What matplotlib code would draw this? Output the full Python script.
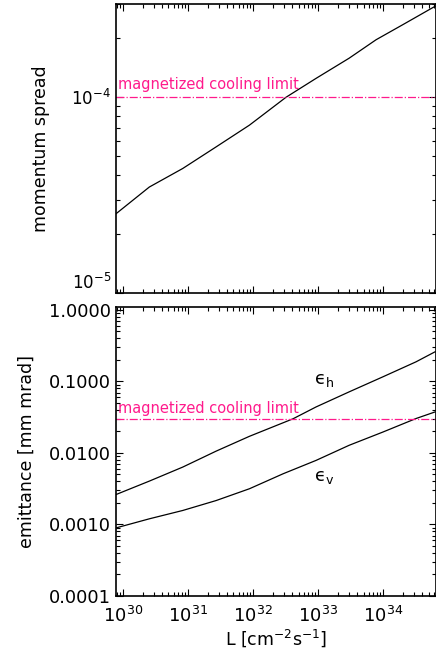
import numpy as np
import matplotlib
matplotlib.use('Agg')
import matplotlib.pyplot as plt
from matplotlib.ticker import LogLocator, FixedLocator, FixedFormatter, NullFormatter

plt.rcParams['font.family'] = 'DejaVu Sans'
plt.rcParams['mathtext.default'] = 'regular'

# luminosity [cm^-2 s^-1] and momentum spread (top panel)
L_top = [7.8e29, 2.54e30, 8.3e30, 2.7e31, 8.8e31, 3.2e32, 9.3e32, 3.0e33, 7.8e33, 2.0e34, 6.3e34]
dp = [2.54e-5, 3.48e-5, 4.33e-5, 5.58e-5, 7.21e-5, 1.0e-4, 1.25e-4, 1.585e-4, 1.97e-4, 2.35e-4, 2.92e-4]

# emittances [mm mrad] (bottom panel)
L_h = [7.8e29, 2.54e30, 8.3e30, 2.7e31, 8.8e31, 4.1e32, 9.3e32, 3.0e33, 9.9e33, 3.2e34, 6.3e34]
eps_h = [0.00262, 0.00404, 0.00635, 0.0106, 0.0171, 0.030, 0.044, 0.0715, 0.116, 0.188, 0.26]
L_v = [7.8e29, 2.54e30, 8.3e30, 2.7e31, 8.8e31, 2.9e32, 9.3e32, 3.0e33, 9.9e33, 3.2e34, 6.3e34]
eps_v = [0.000895, 0.0012, 0.00157, 0.00216, 0.00316, 0.00512, 0.00787, 0.0128, 0.0196, 0.0303, 0.0375]

# magnetized cooling limits
dp_limit = 1e-4
eps_limit = 0.03

limit_color = '#ff1a8c'
xlim = (7.8e29, 6.4e34)

fig = plt.figure(figsize=(4.36, 6.53), dpi=100)
ax1 = fig.add_axes([0.266, 0.5513, 0.733, 0.4426])
ax2 = fig.add_axes([0.266, 0.0873, 0.733, 0.4426])

for ax in (ax1, ax2):
    ax.set_xscale('log')
    ax.set_yscale('log')
    ax.set_xlim(*xlim)
    ax.tick_params(which='both', direction='in', top=True, right=True, width=0.8)
    ax.tick_params(which='major', length=5, labelsize=12)
    ax.tick_params(which='minor', length=3)
    ax.xaxis.set_minor_locator(LogLocator(base=10, subs=np.arange(2, 10), numticks=20))
    ax.yaxis.set_minor_locator(LogLocator(base=10, subs=np.arange(2, 10), numticks=20))
    ax.yaxis.set_minor_formatter(NullFormatter())
    ax.xaxis.set_minor_formatter(NullFormatter())
    for s in ax.spines.values():
        s.set_linewidth(1.2)

xt = [1e30, 1e31, 1e32, 1e33, 1e34]

# top panel
ax1.plot(L_top, dp, color='black', lw=0.9)
ax1.axhline(dp_limit, color=limit_color, lw=0.9, ls='-.')
ax1.text(8.3e29, dp_limit * 1.06, 'magnetized cooling limit', color=limit_color,
         fontsize=10.5, ha='left', va='bottom')
ax1.set_ylim(1e-5, 3e-4)
ax1.yaxis.set_major_locator(FixedLocator([1e-5, 1e-4]))
ax1.yaxis.set_major_formatter(FixedFormatter(['$10^{-5}$', '$10^{-4}$']))
ax1.xaxis.set_major_locator(FixedLocator(xt))
ax1.set_xticklabels([])
ax1.set_ylabel('momentum spread', fontsize=12.5)
ax1.yaxis.set_label_coords(-0.205, 0.5)

# bottom panel
ax2.plot(L_h, eps_h, color='black', lw=0.9)
ax2.plot(L_v, eps_v, color='black', lw=0.9)
ax2.axhline(eps_limit, color=limit_color, lw=0.9, ls='-.')
ax2.text(8.3e29, eps_limit * 1.1, 'magnetized cooling limit', color=limit_color,
         fontsize=10.5, ha='left', va='bottom')
ax2.text(1.25e33, 0.105, '$ϵ_{h}$', fontsize=13, ha='center', va='center')
ax2.text(1.25e33, 0.0046, '$ϵ_{v}$', fontsize=13, ha='center', va='center')
ax2.set_ylim(1e-4, 1.1)
yt = [1e-4, 1e-3, 1e-2, 1e-1, 1.0]
ax2.yaxis.set_major_locator(FixedLocator(yt))
ax2.yaxis.set_major_formatter(FixedFormatter(['%.4f' % v for v in yt]))
ax2.tick_params(axis='y', which='major', labelsize=12.8)
ax2.xaxis.set_major_locator(FixedLocator(xt))
ax2.xaxis.set_major_formatter(FixedFormatter(['$10^{%d}$' % int(round(np.log10(v))) for v in xt]))
ax2.tick_params(axis='x', which='major', pad=7, labelsize=13)
ax2.set_ylabel('emittance [mm mrad]', fontsize=12.5)
ax2.yaxis.set_label_coords(-0.25, 0.5)
ax2.set_xlabel('L [cm$^{-2}$s$^{-1}$]', fontsize=12.5, labelpad=1)

# lift the lowest label of the top panel clear of the lower panel
fig.canvas.draw()
ax1.yaxis.get_majorticklabels()[0].set_verticalalignment('bottom')

fig.savefig('out.png', dpi=100)
